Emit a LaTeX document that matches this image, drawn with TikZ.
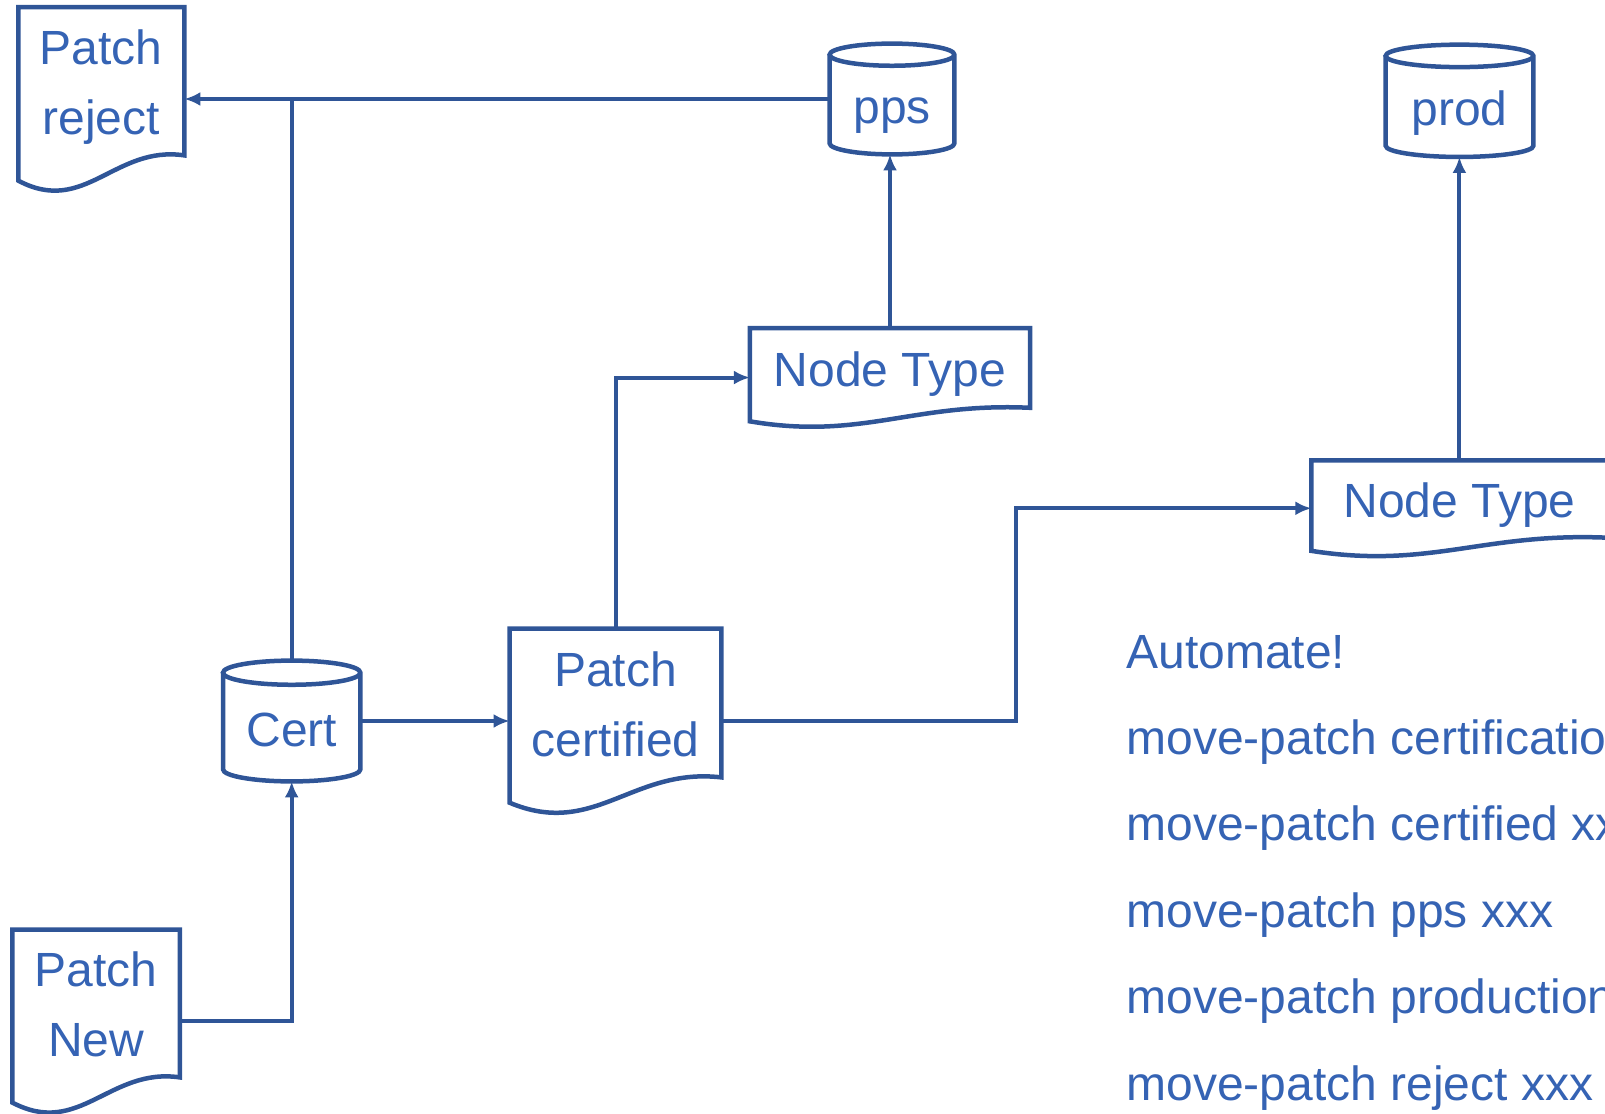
\documentclass[tikz,border=0pt]{standalone}
\usepackage{fontspec}
\setmainfont{Liberation Sans}
\usetikzlibrary{calc,arrows.meta}

\definecolor{lineblue}{HTML}{2F5597}
\definecolor{textblue}{HTML}{3563B4}

\tikzset{
  box/.style={inner sep=0pt, align=center, text=textblue, font=\fontsize{24}{35}\selectfont},
  doc/.style={box, execute at begin node={\rule[-5pt]{0pt}{#1}}, execute at end node={\rule[-5pt]{0pt}{#1}}},
  doc/.default=28pt,
  db/.style={box, execute at begin node={\rule[-5pt]{0pt}{35pt}}, execute at end node={\rule[-5pt]{0pt}{35pt}}},
  outline/.style={draw=lineblue, line width=2.25pt},
  link/.style={draw=lineblue, line width=2pt},
  arrow/.style={link, -{Latex[length=8pt,width=7pt]}},
  cmd/.style={inner sep=0pt, anchor=base west, text=textblue, font=\fontsize{24}{28}\selectfont}
}

\begin{document}
\begin{tikzpicture}[x=0.5pt, y=-0.5pt]
    \useasboundingbox (0,0) rectangle (1605,1113);

    % Documents
    \node[doc=63pt, minimum width=82.65pt, minimum height=73.75pt] (reject) at (101.3,81.25) {Patch\\reject};
    \node[doc=63pt, minimum width=83.4pt, minimum height=73.5pt] (new) at (96.1,1003.5) {Patch\\New};
    \node[doc=63pt, minimum width=105.5pt, minimum height=74pt] (cert2) at (615.5,703) {Patch\\certified};
    \node[doc, minimum width=139.7pt, minimum height=39.4pt] (type1) at (890,368) {Node Type};
    \node[doc, minimum width=147.65pt, minimum height=38.3pt] (type2) at (1459.4,499) {Node Type};

    % Databases
    \node[db, minimum width=62pt, minimum height=55pt] (pps) at (892,99) {pps};
    \node[db, minimum width=73.5pt, minimum height=55.75pt] (prod) at (1459.5,100.8) {prod};
    \node[db, minimum width=68.3pt, minimum height=60pt] (cert) at (291.7,721) {Cert};

    % Draw document outlines
    \foreach \nm in {reject,new,cert2,type1,type2}
      \draw[outline] let \p1=(\nm.north west), \p2=(\nm.south east), \n1={\x2-\x1}, \n2={\y1-\y2} in
        (\p1) -- (\x2,\y1) -- (\p2)
        .. controls ({\x1+0.58*\n1},{\y2+0.07*\n2}) and ({\x1+0.4*\n1},{\y2-0.41*\n2}) .. (\x1,{\y2-0.17*\n2}) -- cycle;

    % Draw database outlines
    \foreach \cy in {pps,prod,cert}
      \draw[outline] let \p1=(\cy.north west), \p2=(\cy.south east), \n1={(\x2-\x1)/2}, \n2={0.1*(\y1-\y2)} in
        (\x1,{\y1-\n2}) -- (\x1,{\y2+\n2})
        arc[start angle=180, end angle=360, x radius={\n1*1pt}, y radius={\n2*1pt}]
        -- (\x2,{\y1-\n2})
        arc[start angle=0, end angle=180, x radius={\n1*1pt}, y radius={\n2*1pt}]
        arc[start angle=180, end angle=360, x radius={\n1*1pt}, y radius={\n2*1pt}];

    % Connection points
    \coordinate (newout) at ($(new.east)!0.24!(new.south east)$);
    \coordinate (cert2out) at ($(cert2.east)!0.24!(cert2.south east)$);
    \coordinate (type1in) at ($(type1.west)!0.24!(type1.south west)$);
    \coordinate (type2in) at ($(type2.west)!0.24!(type2.south west)$);
    \coordinate (bend) at (1016,600);

    % Connectors
    \draw[arrow] (pps.west) -- (pps.west -| reject.east);
    \draw[link] (cert.north) -- (cert.north |- pps.west);
    \draw[arrow] (newout) -| (cert.south);
    \draw[arrow] (cert.east) -- (cert.east -| cert2.west);
    \draw[arrow] (cert2.north) |- (type1in);
    \draw[arrow] (cert2out) -| (bend) |- (type2in);
    \draw[arrow] (type1.north) -- (type1.north |- pps.south);
    \draw[arrow] (type2.north) -- (type2.north |- prod.south);

    % Commands
    \foreach \i/\txt in {0/Automate!, 1/move-patch certification xxx, 2/move-patch certified xxx, 3/move-patch pps xxx, 4/move-patch production xxx, 5/move-patch reject xxx}
      \node[cmd] (cmd\i) at (1126,{668+86.4*\i}) {\txt};
\end{tikzpicture}
\end{document}
